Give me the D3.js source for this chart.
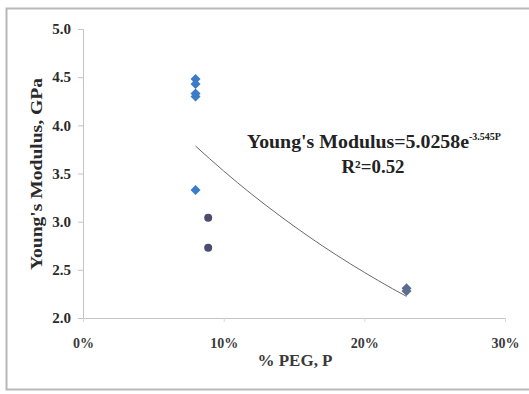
<!DOCTYPE html>
<html>
<head>
<meta charset="utf-8">
<script src="https://cdn.jsdelivr.net/npm/d3@7"></script>
<style>
  body { margin: 0; background: #fff; }
  svg { display: block; font-family: "Liberation Serif", "Times New Roman", serif; }
</style>
</head>
<body>
<svg width="529" height="394"></svg>
<script>
// data
var pegBlue = [0.08, 0.08, 0.08, 0.08, 0.08];
var modBlue = [4.48, 4.43, 4.33, 4.30, 3.33];
var pegDark = [0.089, 0.089];
var modDark = [3.04, 2.73];
var pegSlate = [0.23, 0.23];
var modSlate = [2.31, 2.28];
// trend line points (as drawn)
var trendP = [0.08, 0.10, 0.12, 0.14, 0.16, 0.18, 0.20, 0.22, 0.23];
var trendE = [3.785, 3.526, 3.284, 3.060, 2.850, 2.655, 2.474, 2.304, 2.224];
var xTicks = [0, 0.1, 0.2, 0.3];
var yTicks = [2.0, 2.5, 3.0, 3.5, 4.0, 4.5, 5.0];

var svg = d3.select('svg');

// outer frame
svg.append('rect')
  .attr('x', 6.5).attr('y', 8.5)
  .attr('width', 540).attr('height', 381)
  .attr('fill', 'none')
  .attr('stroke', '#b8b8b8')
  .attr('stroke-width', 2);

var x = d3.scaleLinear().domain([0, 0.3]).range([83, 505]);
var y = d3.scaleLinear().domain([2, 5]).range([318, 29]);

// y axis
var yAxis = svg.append('g')
  .attr('transform', 'translate(83,0)')
  .call(d3.axisLeft(y).tickValues(yTicks).tickFormat(d3.format('.1f')).tickSize(5).tickPadding(7));
yAxis.select('.domain').attr('stroke', '#c4c4c4');
yAxis.selectAll('line').attr('stroke', '#c4c4c4');
yAxis.selectAll('text')
  .attr('font-size', 15).attr('font-weight', 'bold').attr('fill', '#2a2a2a')
  .attr('font-family', '"Liberation Serif", serif');

// x axis
var xAxis = svg.append('g')
  .attr('transform', 'translate(0,318)')
  .call(d3.axisBottom(x).tickValues(xTicks).tickFormat(d3.format('.0%')).tickSize(4).tickPadding(16));
xAxis.select('.domain').attr('stroke', '#c4c4c4');
xAxis.selectAll('line').attr('stroke', '#d8d8d8');
xAxis.selectAll('text')
  .attr('font-size', 14).attr('font-weight', 'bold').attr('fill', '#3a3a3a')
  .attr('font-family', '"Liberation Serif", serif');

// axis titles
svg.append('text')
  .attr('transform', 'translate(42,174) rotate(-90)')
  .attr('text-anchor', 'middle')
  .attr('font-size', 17).attr('font-weight', 'bold').attr('fill', '#2a2a2a')
  .attr('textLength', 192).attr('lengthAdjust', 'spacingAndGlyphs')
  .text("Young's Modulus, GPa");
svg.append('text')
  .attr('x', 295).attr('y', 366)
  .attr('text-anchor', 'middle')
  .attr('font-size', 16).attr('font-weight', 'bold').attr('fill', '#3a3a3a')
  .attr('textLength', 75).attr('lengthAdjust', 'spacingAndGlyphs')
  .text('% PEG, P');

// trend line
var line = d3.line()
  .x(function(d, i) { return x(trendP[i]); })
  .y(function(d) { return y(d); })
  .curve(d3.curveMonotoneX);
svg.append('path')
  .attr('d', line(trendE))
  .attr('fill', 'none')
  .attr('stroke', '#6a6a6a')
  .attr('stroke-width', 1);

// markers
var diamond = d3.symbol().type(d3.symbolSquare).size(50);
svg.append('g').selectAll('path')
  .data(modBlue).enter().append('path')
  .attr('d', diamond)
  .attr('transform', function(d, i) { return 'translate(' + x(pegBlue[i]) + ',' + y(d) + ') rotate(45)'; })
  .attr('fill', '#3b7bc8');

svg.append('g').selectAll('circle')
  .data(modDark).enter().append('circle')
  .attr('cx', function(d, i) { return x(pegDark[i]); })
  .attr('cy', function(d) { return y(d); })
  .attr('r', 4)
  .attr('fill', '#4c4c6c');

svg.append('g').selectAll('path')
  .data(modSlate).enter().append('path')
  .attr('d', diamond)
  .attr('transform', function(d, i) { return 'translate(' + x(pegSlate[i]) + ',' + y(d) + ') rotate(45)'; })
  .attr('fill', '#5a6e8e');

// equation label
var eq = svg.append('text')
  .attr('x', 247).attr('y', 148)
  .attr('font-size', 18).attr('font-weight', 'bold').attr('fill', '#222');
eq.append('tspan').attr('textLength', 222).attr('lengthAdjust', 'spacingAndGlyphs').text("Young's Modulus=5.0258e");
eq.append('tspan').attr('font-size', 10).attr('dy', -8).text('-3.545P');
svg.append('text')
  .attr('x', 373).attr('y', 173)
  .attr('text-anchor', 'middle')
  .attr('font-size', 18).attr('font-weight', 'bold').attr('fill', '#222')
  .attr('textLength', 63).attr('lengthAdjust', 'spacingAndGlyphs')
  .text('R²=0.52');
</script>
</body>
</html>
